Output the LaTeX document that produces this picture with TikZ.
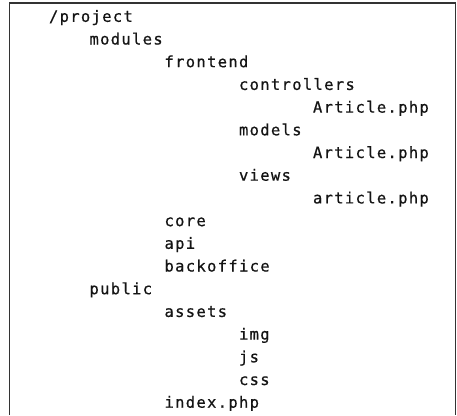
\documentclass[tikz,border=0pt]{standalone}
\usepackage{fontspec}
\newfontfamily\codefont[LetterSpace=8.5,FakeBold=0.6]{DejaVu Sans Mono}
\definecolor{txt}{HTML}{141414}
\definecolor{frame}{HTML}{333333}
\begin{document}
\begin{tikzpicture}[x=1pt,y=-1pt,
  entry/.style={anchor=base west,inner sep=0pt,outer sep=0pt,text=txt,font=\codefont\fontsize{15.5}{18}\selectfont}]
\useasboundingbox (0,0) rectangle (457,415);
\fill[white] (0,0) rectangle (457,415);
\draw[frame,line width=1.3pt] (9.6,415) -- (9.6,3) -- (455.8,3) -- (455.8,415);
\node[entry] (project) at (49,21.8) {/project};
\node[entry] (modules) at (89.5,44.5) {modules};
\node[entry] (frontend) at (164.5,67.2) {frontend};
\node[entry] (controllers) at (239,89.9) {controllers};
\node[entry] (art1) at (313,112.6) {Article.php};
\node[entry] (models) at (239,135.3) {models};
\node[entry] (art2) at (313,158.0) {Article.php};
\node[entry] (views) at (239,180.7) {views};
\node[entry] (art3) at (313,203.4) {article.php};
\node[entry] (core) at (164.5,226.1) {core};
\node[entry] (api) at (164.5,248.8) {api};
\node[entry] (backoffice) at (164.5,271.5) {backoffice};
\node[entry] (public) at (89.5,294.2) {public};
\node[entry] (assets) at (164.5,316.9) {assets};
\node[entry] (img) at (239,339.6) {img};
\node[entry] (js) at (239,362.3) {js};
\node[entry] (css) at (239,385.0) {css};
\node[entry] (index) at (164.5,407.7) {index.php};
\end{tikzpicture}
\end{document}
